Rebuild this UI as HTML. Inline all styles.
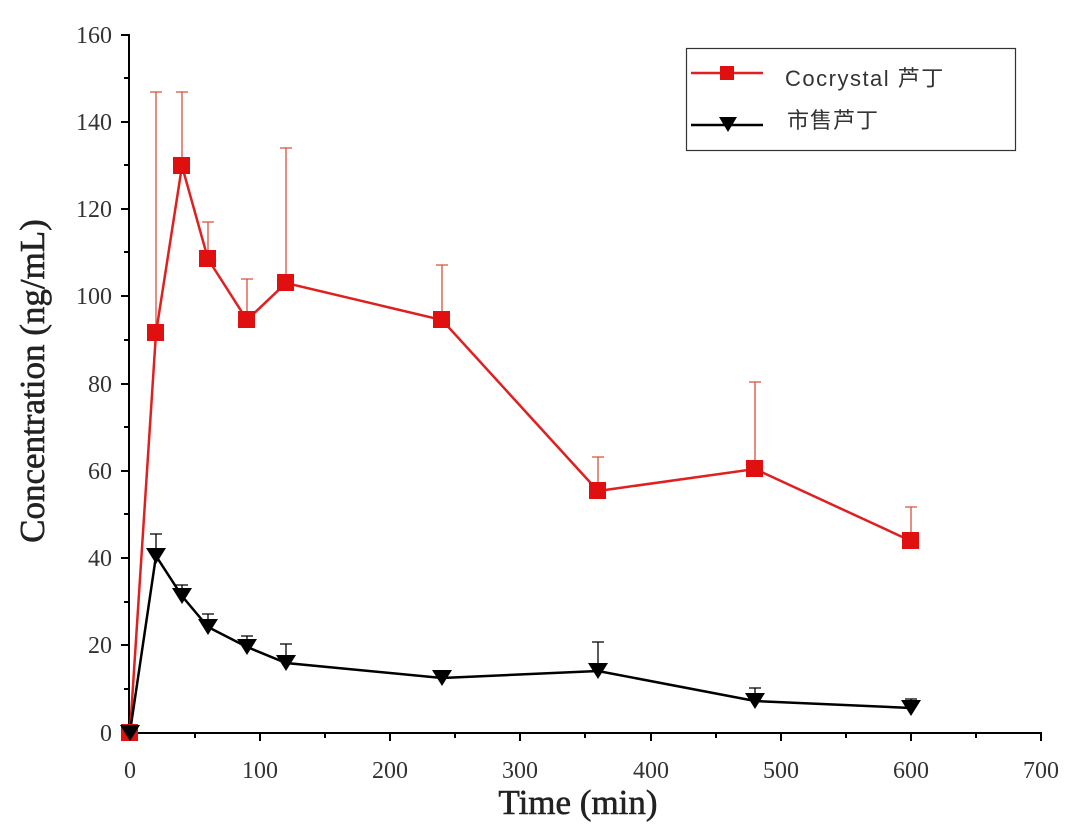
<!DOCTYPE html>
<html><head><meta charset="utf-8"><style>body{margin:0;background:#fff}</style></head><body>
<svg width="1080" height="834" xmlns="http://www.w3.org/2000/svg" font-family="'Liberation Serif',serif">
<rect width="1080" height="834" fill="#fff"/>
<g stroke="#000" stroke-width="2" fill="none">
<line x1="129" y1="34" x2="129" y2="733"/>
<line x1="128" y1="733" x2="1042" y2="733"/>
</g>
<g stroke="#000" stroke-width="2">
<line x1="121" y1="35" x2="129" y2="35"/><line x1="121" y1="122" x2="129" y2="122"/><line x1="121" y1="209" x2="129" y2="209"/><line x1="121" y1="296" x2="129" y2="296"/><line x1="121" y1="384" x2="129" y2="384"/><line x1="121" y1="471" x2="129" y2="471"/><line x1="121" y1="558" x2="129" y2="558"/><line x1="121" y1="645" x2="129" y2="645"/><line x1="121" y1="733" x2="129" y2="733"/>
<line x1="124" y1="78" x2="129" y2="78"/><line x1="124" y1="165" x2="129" y2="165"/><line x1="124" y1="252" x2="129" y2="252"/><line x1="124" y1="340" x2="129" y2="340"/><line x1="124" y1="427" x2="129" y2="427"/><line x1="124" y1="514" x2="129" y2="514"/><line x1="124" y1="602" x2="129" y2="602"/><line x1="124" y1="689" x2="129" y2="689"/>
<line x1="130" y1="733" x2="130" y2="741"/><line x1="260" y1="733" x2="260" y2="741"/><line x1="390" y1="733" x2="390" y2="741"/><line x1="520" y1="733" x2="520" y2="741"/><line x1="651" y1="733" x2="651" y2="741"/><line x1="781" y1="733" x2="781" y2="741"/><line x1="911" y1="733" x2="911" y2="741"/><line x1="1041" y1="733" x2="1041" y2="741"/>
<line x1="195" y1="733" x2="195" y2="738"/><line x1="325" y1="733" x2="325" y2="738"/><line x1="455" y1="733" x2="455" y2="738"/><line x1="585" y1="733" x2="585" y2="738"/><line x1="716" y1="733" x2="716" y2="738"/><line x1="846" y1="733" x2="846" y2="738"/><line x1="976" y1="733" x2="976" y2="738"/>
</g>
<g font-size="24" fill="#333" text-anchor="end">
<text x="112" y="43">160</text><text x="112" y="130">140</text><text x="112" y="217">120</text><text x="112" y="304">100</text><text x="112" y="392">80</text><text x="112" y="479">60</text><text x="112" y="566">40</text><text x="112" y="653">20</text><text x="112" y="741">0</text>
</g>
<g font-size="24" fill="#333" text-anchor="middle">
<text x="130" y="778">0</text><text x="260" y="778">100</text><text x="390" y="778">200</text><text x="520" y="778">300</text><text x="651" y="778">400</text><text x="781" y="778">500</text><text x="911" y="778">600</text><text x="1041" y="778">700</text>
</g>
<text x="578" y="814" font-size="35" stroke="#222" stroke-width="0.6" text-anchor="middle" fill="#222">Time (min)</text>
<text transform="translate(44,381) rotate(-90)" font-size="35" stroke="#222" stroke-width="0.6" text-anchor="middle" fill="#222">Concentration (ng/mL)</text>
<g stroke="#d9503a" stroke-width="1.3">
<path d="M156 333V92M150 92H162M182 166V92M176 92H188M208 259V222M202 222H214M247 320V279M241 279H253M286 283V148M280 148H292M442 320V265M436 265H448M598 491V457M592 457H604M755 469V382M749 382H761M911 541V507M905 507H917"/>
</g>
<g stroke="#000" stroke-width="1.3">
<path d="M156 556V534M150 534H162M182 596V585M176 585H188M208 627V614M202 614H214M247 647V636M241 636H253M286 663V644M280 644H292M442 678V671M436 671H448M598 671V642M592 642H604M755 701V688M749 688H761M911 708V699M905 699H917"/>
</g>
<polyline fill="none" stroke="#e02020" stroke-width="2.5" points="130,732 156,333 182,166 208,259 247,320 286,283 442,320 598,491 755,469 911,541"/>
<polyline fill="none" stroke="#000" stroke-width="2.5" points="130,732 156,556 182,596 208,627 247,647 286,663 442,678 598,671 755,701 911,708"/>
<g fill="#e01010">
<rect x="121" y="724" width="17" height="17"/><rect x="147" y="324" width="17" height="17"/><rect x="173" y="157" width="17" height="17"/><rect x="199" y="250" width="17" height="17"/><rect x="238" y="311" width="17" height="17"/><rect x="277" y="274" width="17" height="17"/><rect x="433" y="311" width="17" height="17"/><rect x="589" y="482" width="17" height="17"/><rect x="746" y="460" width="17" height="17"/><rect x="902" y="532" width="17" height="17"/>
</g>
<g fill="#000">
<path d="M120 725h20l-10 16z"/><path d="M146 548h20l-10 16z"/><path d="M172 588h20l-10 16z"/><path d="M198 619h20l-10 16z"/><path d="M237 639h20l-10 16z"/><path d="M276 655h20l-10 16z"/><path d="M432 670h20l-10 16z"/><path d="M588 663h20l-10 16z"/><path d="M745 693h20l-10 16z"/><path d="M901 700h20l-10 16z"/>
</g>
<rect x="686.5" y="48.5" width="329" height="102" fill="#fff" stroke="#333" stroke-width="1.2"/>
<line x1="691" y1="73" x2="763" y2="73" stroke="#e02020" stroke-width="2.5"/>
<rect x="720" y="66" width="14" height="14" fill="#e01010"/>
<line x1="691" y1="125" x2="763" y2="125" stroke="#000" stroke-width="2.5"/>
<path d="M719 117h18l-9 15z" fill="#000"/>
<text x="785" y="86" font-family="'Liberation Sans','Noto Sans CJK SC',sans-serif" font-size="22" fill="#333" letter-spacing="1.5">Cocrystal 芦丁</text>
<text x="787" y="128" font-family="'Liberation Sans','Noto Sans CJK SC',sans-serif" font-size="22" fill="#333" letter-spacing="1">市售芦丁</text>
</svg>
</body></html>
